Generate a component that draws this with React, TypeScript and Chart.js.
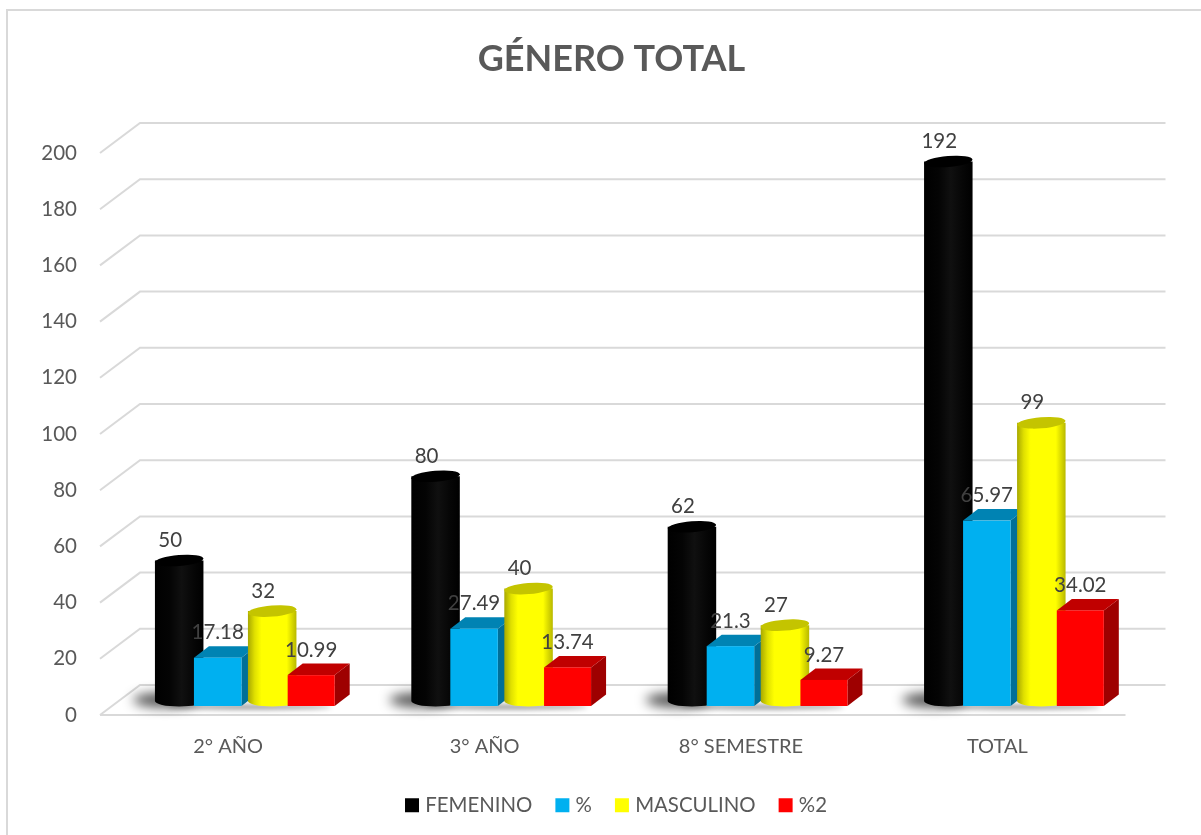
import React, { useEffect, useRef } from "react";
import { Chart, registerables } from "chart.js";

Chart.register(...registerables);

const categories = ["2° AÑO", "3° AÑO", "8° SEMESTRE", "TOTAL"];
const femenino = [50, 80, 62, 192];
const pctFem = [17.18, 27.49, 21.3, 65.97];
const masculino = [32, 40, 27, 99];
const pctMasc = [10.99, 13.74, 9.27, 34.02];

const FONT = "Lato, Carlito, sans-serif";
const TEXT = "#595959";
const GRID = "#D9D9D9";

// 3-D look (pixels)
const DEPTH_X = 40;
const DEPTH_Y = 30;
const FLOOR_LIFT = 9;
const BAR_SHIFT = [-49, -10.5, 44, 83];
const BAR_WIDTH = [48.5, 47.5, 48.5, 47];
const LABEL_SHIFT = [-9, 0, -9, 0];
const BOX_DX = 15;
const BOX_DY = 11.5;
const CYL_RY = 5.5;
const CYL_LIFT = 5;

const styles = [
  { kind: "cyl", top: "#000000", stops: [[0, "#000000"], [0.3, "#040404"], [0.55, "#101010"], [0.8, "#060606"], [1, "#000000"]] },
  { kind: "box", top: "#0083B3", side: "#006F98" },
  { kind: "cyl", top: "#C4C400", stops: [[0, "#A8A800"], [0.14, "#E0E000"], [0.28, "#FFFF00"], [0.8, "#FFFF00"], [1, "#B8B800"]] },
  { kind: "box", top: "#C00000", side: "#9E0000" },
] as any[];

const plugin3d = {
  id: "plugin3d",
  afterDatasetsUpdate(chart: any) {
    chart.data.datasets.forEach((_: any, i: number) => {
      chart.getDatasetMeta(i).data.forEach((el: any) => {
        el.x += BAR_SHIFT[i];
        el.width = BAR_WIDTH[i];
        el.y -= FLOOR_LIFT;
        el.base -= FLOOR_LIFT;
      });
    });
  },
  afterLayout(chart: any) {
    const t = chart.titleBlock;
    if (t) {
      t.left = 11;
      t.right = chart.width + 11;
    }
    const l = chart.legend;
    if (l) {
      l.left = 17.5;
      l.right = chart.width + 17.5;
      l.top = 768;
      l.bottom = l.top + l.height;
    }
  },
  beforeDraw(chart: any) {
    const c = chart.ctx;
    c.save();
    c.fillStyle = "#ffffff";
    c.fillRect(0, 0, chart.width, chart.height);
    c.strokeStyle = GRID;
    c.lineWidth = 2;
    c.beginPath();
    c.moveTo(7, 835);
    c.lineTo(7, 10);
    c.lineTo(1201, 10);
    c.stroke();
    c.restore();
  },
  beforeDatasetsDraw(chart: any) {
    const c = chart.ctx;
    const { left, right } = chart.chartArea;
    const yS = chart.scales.y;
    c.save();
    c.strokeStyle = GRID;
    c.lineWidth = 2;
    yS.ticks.forEach((t: any) => {
      const y = yS.getPixelForValue(t.value);
      c.beginPath();
      c.moveTo(left, y);
      c.lineTo(left + DEPTH_X, y - DEPTH_Y);
      c.lineTo(right + DEPTH_X, y - DEPTH_Y);
      c.stroke();
    });
    const y0 = yS.getPixelForValue(0);
    c.beginPath();
    c.moveTo(left, y0);
    c.lineTo(right, y0);
    c.stroke();
    // soft floor shadows
    const first = chart.getDatasetMeta(0).data;
    first.forEach((el: any) => {
      c.save();
      c.filter = "blur(6px)";
      c.fillStyle = "rgba(0,0,0,0.7)";
      c.beginPath();
      c.ellipse(el.x - 14, el.base - 6, 32, 7, 0, 0, Math.PI * 2);
      c.fill();
      c.filter = "blur(2.5px)";
      c.fillStyle = "rgba(0,0,0,0.4)";
      c.beginPath();
      c.ellipse(el.x + 70, el.base + 1, 82, 2.5, 0, 0, Math.PI * 2);
      c.fill();
      c.restore();
    });
    c.restore();
  },
  beforeDatasetDraw(chart: any, args: any) {
    const c = chart.ctx;
    const st = styles[args.index];
    const color = chart.data.datasets[args.index].backgroundColor;
    args.meta.data.forEach((el: any) => {
      const { x, y, base, width } = el;
      const l = x - width / 2;
      const r = x + width / 2;
      c.save();
      if (st.kind === "box") {
        c.fillStyle = st.side;
        c.beginPath();
        c.moveTo(r, y);
        c.lineTo(r + BOX_DX, y - BOX_DY);
        c.lineTo(r + BOX_DX, base - BOX_DY);
        c.lineTo(r, base);
        c.closePath();
        c.fill();
        c.fillStyle = st.top;
        c.beginPath();
        c.moveTo(l, y);
        c.lineTo(l + BOX_DX, y - BOX_DY);
        c.lineTo(r + BOX_DX, y - BOX_DY);
        c.lineTo(r, y);
        c.closePath();
        c.fill();
        c.fillStyle = color;
        c.fillRect(l, y, width, base - y);
      } else {
        const g = c.createLinearGradient(l, 0, r, 0);
        st.stops.forEach((s: any) => g.addColorStop(s[0], s[1]));
        const yt = y - CYL_LIFT;
        const yb = base - CYL_LIFT;
        c.fillStyle = g;
        c.beginPath();
        c.moveTo(l, yt);
        c.lineTo(l, yb);
        c.ellipse(x, yb, width / 2, CYL_RY, 0, Math.PI, 0, true);
        c.lineTo(r, yt);
        c.closePath();
        c.fill();
        c.fillStyle = st.top;
        c.beginPath();
        c.ellipse(x, yt, width / 2, CYL_RY, -0.08, 0, Math.PI * 2);
        c.fill();
      }
      c.restore();
    });
    return false;
  },
  afterDatasetsDraw(chart: any) {
    const c = chart.ctx;
    c.save();
    c.font = `20.5px ${FONT}`;
    c.fillStyle = "#404040";
    c.textAlign = "center";
    c.textBaseline = "middle";
    chart.data.datasets.forEach((ds: any, i: number) => {
      chart.getDatasetMeta(i).data.forEach((el: any, j: number) => {
        c.fillText(String(ds.data[j]), el.x + LABEL_SHIFT[i], el.y - 25);
      });
    });
    c.restore();
  },
};

export default function App() {
  const ref = useRef<HTMLCanvasElement>(null);
  useEffect(() => {
    document.body.style.margin = "0";
    const chart = new Chart(ref.current as any, {
      type: "bar",
      plugins: [plugin3d],
      data: {
        labels: categories,
        datasets: [
          { label: "FEMENINO", data: femenino, backgroundColor: "#000000", order: 4 },
          { label: "%", data: pctFem, backgroundColor: "#00B0F0", order: 3 },
          { label: "MASCULINO", data: masculino, backgroundColor: "#FFFF00", order: 2 },
          { label: "%2", data: pctMasc, backgroundColor: "#FF0000", order: 1 },
        ],
      },
      options: {
        animation: false,
        responsive: false,
        devicePixelRatio: 1,
        datasets: { bar: { grouped: false } },
        layout: { padding: { left: 0, right: 75.5, top: 0, bottom: 0 } },
        plugins: {
          tooltip: { enabled: false },
          title: {
            display: true,
            text: "GÉNERO TOTAL",
            color: TEXT,
            font: { family: FONT, size: 36, weight: "bold" },
            padding: { top: 38, bottom: 71.8 },
          },
          legend: {
            position: "bottom",
            labels: {
              color: TEXT,
              font: { family: FONT, size: 20.4 },
              boxWidth: 6,
              boxHeight: 6,
              padding: 27,
              sort: (a: any, b: any) => a.datasetIndex - b.datasetIndex,
              generateLabels(chart: any) {
                return Chart.defaults.plugins.legend.labels
                  .generateLabels(chart)
                  .map((it: any) => ({ ...it, lineWidth: 8, strokeStyle: it.fillStyle }));
              },
            },
          },
        },
        scales: {
          x: {
            grid: { display: false, drawTicks: false },
            border: { display: false },
            ticks: { color: TEXT, font: { family: FONT, size: 20 }, padding: 20, maxRotation: 0 },
            afterFit(s: any) {
              s.height = 120 - (s.chart.legend?.height || 0);
            },
          },
          y: {
            min: 0,
            max: 200,
            grid: { display: false, drawTicks: false },
            border: { display: false },
            ticks: { color: TEXT, font: { family: FONT, size: 20.5 }, padding: 23, stepSize: 20 },
            afterFit(s: any) {
              s.width = 100;
            },
          },
        },
      } as any,
    } as any);
    return () => chart.destroy();
  }, []);
  return (
    <div style={{ position: "absolute", left: 0, top: 0, width: 1201, height: 835, overflow: "hidden" }}>
      <canvas ref={ref} width={1201} height={835} style={{ display: "block" }} />
    </div>
  );
}
